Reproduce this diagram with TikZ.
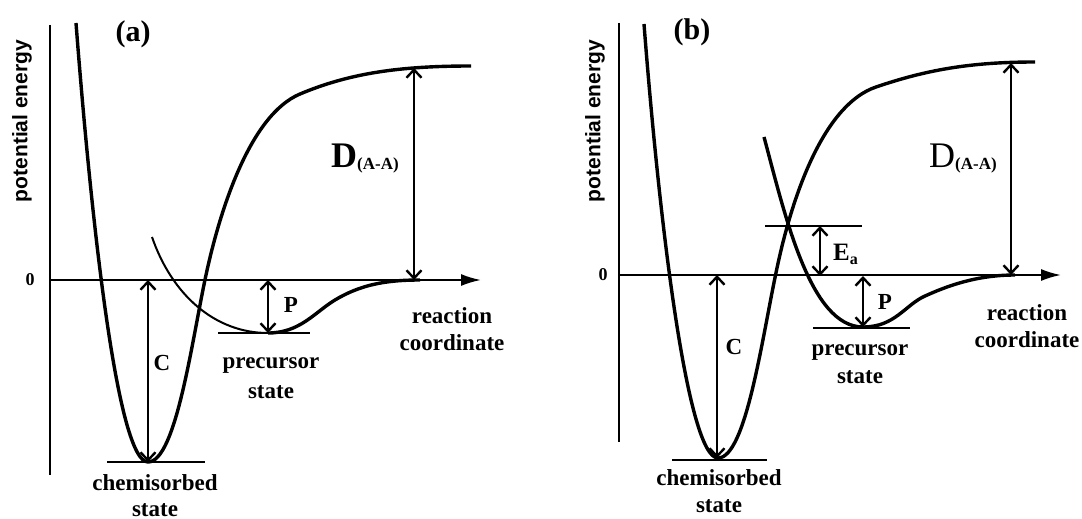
\documentclass[tikz,border=0pt]{standalone}
\usepackage{fontspec}
\setmainfont{Liberation Serif}
\setsansfont{Liberation Sans}
\usetikzlibrary{arrows.meta}

\tikzset{
  barb/.tip={Straight Barb[length=8pt,width=15pt,line width=2.4pt]},
  axistip/.tip={Latex[length=20pt,width=12pt]}
}

\begin{document}
\begin{tikzpicture}[x=1pt, y=-1pt,
  lbl/.style={font={\bfseries\fontsize{23}{28}\selectfont}, inner sep=0pt, align=center},
  panel/.style={font={\bfseries\fontsize{30}{30}\selectfont}, inner sep=0pt},
  ylab/.style={rotate=90, font={\sffamily\bfseries\fontsize{21}{21}\selectfont}, inner sep=0pt},
  zero/.style={font={\bfseries\fontsize{18}{18}\selectfont}, inner sep=0pt},
  axis/.style={line width=2pt},
  level/.style={line width=2.5pt},
  well/.style={line width=3.4pt, line join=round},
  thinwell/.style={line width=2pt},
  dim/.style={barb-barb, line width=2pt},
  bigdim/.style={barb-barb, line width=2.6pt}]
\useasboundingbox (0,0) rectangle (1082,519);

% ---------- panel (a) ----------
\coordinate (a-top) at (50,25);
\coordinate (a-bot) at (50,475);
\coordinate (a-org) at (50,280);
\coordinate (a-end) at (481,280);
\draw[axis] (a-top) -- (a-bot);
\draw[axis, -axistip] (a-org) -- (a-end);
\node[zero] (a-zero) at (30,280) {0};
\node[ylab] (a-ylab) at (22,121) {potential energy};
\node[panel] (a-name) at (133,34) {(a)};

% chemisorption curve
\draw[well] (76,23) .. controls (92,230) and (118,462) .. (148,462)
  .. controls (176,462) and (192,340) .. (206,275)
  .. controls (220,210) and (250,115) .. (300,94)
  .. controls (350,73) and (400,66) .. (471,66);
% precursor curve
\draw[thinwell] (152,237) .. controls (172,295) and (215,333) .. (268,333);
\draw[well] (268,333) .. controls (300,333) and (315,312) .. (335,300)
  .. controls (360,285) and (385,280) .. (420,280);

% levels
\coordinate (a-cl) at (107,462);
\coordinate (a-cr) at (205,462);
\coordinate (a-pl) at (218,333);
\coordinate (a-pr) at (310,333);
\draw[level] (a-cl) -- (a-cr);
\draw[level] (a-pl) -- (a-pr);

% energy arrows
\coordinate (a-cbot) at (148,462);
\coordinate (a-czero) at (148,280);
\coordinate (a-pbot) at (268,333);
\coordinate (a-pzero) at (268,280);
\coordinate (a-dtop) at (414,68);
\coordinate (a-dzero) at (414,280);
\draw[dim] (a-cbot) -- (a-czero);
\draw[dim] (a-pbot) -- (a-pzero);
\draw[bigdim] (a-dzero) -- (a-dtop);
\node[lbl] (a-c) at (162,363) {C};
\node[lbl] (a-p) at (291,305) {P};
\node[anchor=base west, inner sep=0pt, font=\bfseries] (a-d) at (331,167)
  {{\fontsize{36}{36}\selectfont D}\raisebox{-2pt}{\fontsize{17}{17}\selectfont (A-A)}};

% state labels
\node[lbl, anchor=base] (a-chem) at (155,516) {chemisorbed\\[-2pt]state};
\node[lbl, anchor=base] (a-prec) at (271,398) {precursor\\[2pt]state};
\node[lbl, anchor=base] (a-rc) at (452,350) {reaction\\[-1pt]coordinate};

% ---------- panel (b) ----------
\coordinate (b-top) at (619,23);
\coordinate (b-bot) at (619,442);
\coordinate (b-org) at (619,275);
\coordinate (b-end) at (1061,275);
\draw[axis] (b-top) -- (b-bot);
\draw[axis, -axistip] (b-org) -- (b-end);
\node[zero] (b-zero) at (603,275) {0};
\node[ylab] (b-ylab) at (595,121) {potential energy};
\node[panel] (b-name) at (692,32) {(b)};

% chemisorption curve
\draw[well] (644,24) .. controls (660,230) and (688,458) .. (718,458)
  .. controls (746,458) and (762,338) .. (777,268)
  .. controls (794,188) and (826,104) .. (876,87)
  .. controls (926,70) and (970,62) .. (1035,62);
% precursor curve
\draw[well] (764,137) .. controls (785,215) and (810,327) .. (863,327)
  .. controls (895,327) and (905,305) .. (925,296)
  .. controls (945,287) and (975,275) .. (1015,275);

% levels
\coordinate (b-cl) at (672,460);
\coordinate (b-cr) at (767,460);
\coordinate (b-pl) at (813,328);
\coordinate (b-pr) at (910,328);
\coordinate (b-el) at (765,226);
\coordinate (b-er) at (862,226);
\draw[level] (b-cl) -- (b-cr);
\draw[level] (b-pl) -- (b-pr);
\draw[level] (b-el) -- (b-er);

% energy arrows
\coordinate (b-cbot) at (717,458);
\coordinate (b-czero) at (717,275);
\coordinate (b-pbot) at (863,327);
\coordinate (b-pzero) at (863,276);
\coordinate (b-etop) at (820,226);
\coordinate (b-ezero) at (820,276);
\coordinate (b-dtop) at (1011,63);
\coordinate (b-dzero) at (1011,275);
\draw[dim] (b-cbot) -- (b-czero);
\draw[bigdim] (b-pbot) -- (b-pzero);
\draw[bigdim] (b-ezero) -- (b-etop);
\draw[dim] (b-dzero) -- (b-dtop);
\node[lbl] (b-c) at (734,347) {C};
\node[lbl] (b-p) at (885,302) {P};
\node[anchor=base west, inner sep=0pt, font=\bfseries] (b-e) at (833,260)
  {{\fontsize{25}{25}\selectfont E}\raisebox{-4pt}{\fontsize{16}{16}\selectfont a}};
\node[anchor=base west, inner sep=0pt] (b-d) at (929,167)
  {{\fontsize{36}{36}\selectfont D}\raisebox{-2pt}{\bfseries\fontsize{17}{17}\selectfont (A-A)}};

% state labels
\node[lbl, anchor=base] (b-chem) at (719,512) {chemisorbed\\[-1pt]state};
\node[lbl, anchor=base] (b-prec) at (860,383) {precursor\\state};
\node[lbl, anchor=base] (b-rc) at (1027,347) {reaction\\[-1pt]coordinate};
\end{tikzpicture}
\end{document}
